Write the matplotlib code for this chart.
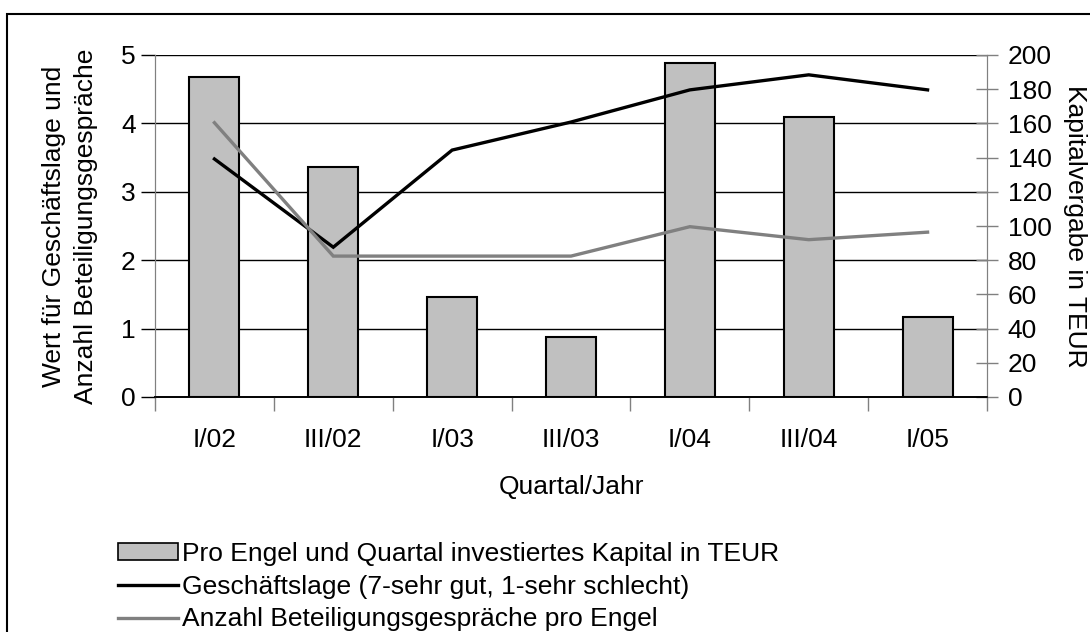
import matplotlib
matplotlib.use('Agg')
import matplotlib.pyplot as plt
import matplotlib.patches as mpatches
from matplotlib.lines import Line2D
import numpy as np

plt.rcParams['font.family'] = ['Liberation Sans', 'DejaVu Sans']

quarters = ['I/02', 'III/02', 'I/03', 'III/03', 'I/04', 'III/04', 'I/05']
kapital = [187, 134.5, 58.7, 35, 195.5, 163.5, 47]          # TEUR, right axis
geschaeftslage = [3.48, 2.19, 3.61, 4.02, 4.49, 4.71, 4.49]  # left axis
gespraeche = [4.01, 2.06, 2.06, 2.06, 2.49, 2.30, 2.41]      # left axis

lbl_bar = 'Pro Engel und Quartal investiertes Kapital in TEUR'
lbl_black = 'Geschäftslage (7-sehr gut, 1-sehr schlecht)'
lbl_gray = 'Anzahl Beteiligungsgespräche pro Engel'

fs = 19
W, H = 1090, 632

fig = plt.figure(figsize=(W / 100, H / 100), dpi=100)
ax = fig.add_axes([155 / W, 1 - 397 / H, (987 - 155) / W, (397 - 55) / H])
ax2 = ax.twinx()
# lines (left scale) on top of the bars (right scale)
ax.set_zorder(ax2.get_zorder() + 1)
ax.patch.set_visible(False)

x = np.arange(len(quarters))

# gridlines behind bars
for v in [40, 80, 120, 160, 200]:
    ax2.axhline(v, color='black', lw=1.0, zorder=0)
ax2.bar(x, kapital, width=0.42, color='#c0c0c0', edgecolor='black', linewidth=1.5, zorder=2)
ax2.set_ylim(0, 200)
ax2.set_yticks(np.arange(0, 201, 20))
ax2.tick_params(axis='y', direction='inout', length=16, width=1, color='#808080',
                labelsize=fs, pad=7)

ax.plot(x, geschaeftslage, color='black', lw=2.4, solid_joinstyle='miter')
ax.plot(x, gespraeche, color='#808080', lw=2.4, solid_joinstyle='miter')
ax.set_ylim(0, 5)
ax.set_yticks(range(6))
ax.tick_params(axis='y', direction='out', length=10, width=1, color='black',
               labelsize=fs, pad=4)
ax.set_xlim(-0.5, len(quarters) - 0.5)
ax.set_xticks(x)
ax.set_xticklabels(quarters)
ax.set_xticks(np.arange(-0.5, len(quarters)), minor=True)
ax.tick_params(axis='x', which='major', length=0, labelsize=fs, pad=22)
ax.tick_params(axis='x', which='minor', direction='out', length=10, width=1, color='#808080')

for a in (ax, ax2):
    a.spines['top'].set_visible(False)
    a.spines['left'].set_color('#808080')
    a.spines['right'].set_color('#808080')
    a.spines['bottom'].set_color('black')
    a.spines['bottom'].set_linewidth(1.2)

ax.set_xlabel('Quartal/Jahr', fontsize=fs, va='center')
ax.xaxis.set_label_coords(0.5, -(487 - 397) / 342)

fig.text(70 / W, 1 - 226 / H, 'Wert für Geschäftslage und\nAnzahl Beteiligungsgespräche',
         rotation=90, ha='center', va='center', fontsize=fs, linespacing=1.4,
         multialignment='center')
fig.text(1075 / W, 1 - 226 / H, 'Kapitalvergabe in TEUR', rotation=270,
         ha='center', va='center', fontsize=fs)

handles = [mpatches.Patch(facecolor='#c0c0c0', edgecolor='black', linewidth=1.2),
           Line2D([], [], color='black', lw=2.4),
           Line2D([], [], color='#808080', lw=2.4)]
fig.legend(handles, [lbl_bar, lbl_black, lbl_gray], loc='upper left',
           bbox_to_anchor=(118 / W, 1 - 542 / H), frameon=False, fontsize=fs,
           handlelength=2.27, handleheight=0.6, handletextpad=0.15,
           labelspacing=0.33, borderpad=0, borderaxespad=0)

# outer frame (right and bottom edge lie outside the picture)
fig.patches.append(mpatches.Rectangle((7 / W, -0.2), 1.5, 1 - 14 / H + 0.2,
                                      transform=fig.transFigure, fill=False,
                                      edgecolor='black', linewidth=1.5))

fig.savefig('out.png', dpi=100)
